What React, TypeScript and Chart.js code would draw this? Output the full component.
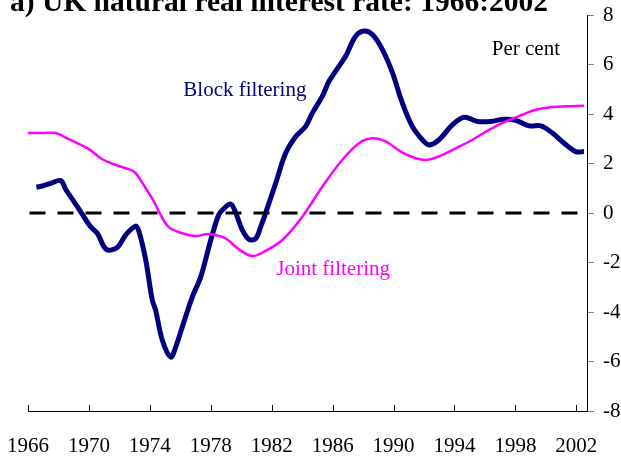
import React, { useEffect, useRef } from "react";
import { Chart, registerables } from "chart.js";

Chart.register(...registerables);

const blockYears = [
  1966.55, 1967.0, 1967.49, 1968.15, 1968.47, 1969.24, 1970.1, 1970.55, 1971.14, 1971.86,
  1972.41, 1973.07, 1973.29, 1973.73, 1974.16, 1974.38, 1974.82, 1975.37, 1975.7, 1976.13,
  1976.79, 1977.34, 1978.0, 1978.5, 1978.76, 1979.31, 1979.64, 1980.07, 1980.51, 1980.95,
  1981.28, 1981.6, 1982.26, 1982.92, 1983.58, 1984.23, 1984.67, 1985.32, 1985.76, 1986.42,
  1986.86, 1987.52, 1988.07, 1988.61, 1989.27, 1989.93, 1990.58, 1991.23, 1991.89, 1992.33,
  1992.99, 1993.86, 1994.63, 1995.5, 1996.38, 1997.25, 1998.02, 1998.9, 1999.67, 2000.43,
  2001.2, 2001.96, 2002.5,
];
const blockValues = [
  1.04, 1.1, 1.2, 1.31, 0.96, 0.26, -0.55, -0.82, -1.47, -1.39,
  -0.89, -0.53, -0.76, -1.9, -3.52, -3.93, -5.14, -5.82, -5.41, -4.6,
  -3.39, -2.58, -1.09, -0.1, 0.12, 0.36, 0.0, -0.69, -1.07, -1.03,
  -0.55, 0.0, 1.2, 2.42, 3.09, 3.5, 4.04, 4.71, 5.32, 5.93,
  6.34, 7.15, 7.35, 7.21, 6.6, 5.66, 4.44, 3.5, 2.96, 2.75,
  2.96, 3.56, 3.87, 3.7, 3.7, 3.79, 3.74, 3.52, 3.52, 3.23,
  2.82, 2.48, 2.48,
];

const jointYears = [
  1966.0, 1966.94, 1967.82, 1968.69, 1970.0, 1970.88, 1971.76, 1972.74, 1973.07, 1973.73,
  1974.27, 1974.71, 1975.26, 1976.13, 1977.01, 1977.67, 1978.1, 1978.98, 1979.85, 1980.73,
  1981.6, 1982.7, 1984.01, 1985.32, 1986.64, 1987.73, 1988.6, 1989.48, 1990.5, 1991.46,
  1992.22, 1993.21, 1994.3, 1995.18, 1996.27, 1997.37, 1998.46, 1999.34, 2000.43, 2001.31,
  2002.5,
];
const jointValues = [
  3.23, 3.23, 3.23, 2.98, 2.58, 2.17, 1.94, 1.74, 1.61, 1.0,
  0.46, -0.08, -0.58, -0.82, -0.93, -0.86, -0.86, -1.03, -1.47, -1.74,
  -1.53, -1.09, -0.15, 1.06, 2.15, 2.82, 3.02, 2.89, 2.47, 2.21,
  2.15, 2.35, 2.68, 2.96, 3.36, 3.7, 3.97, 4.17, 4.28, 4.31,
  4.33,
];

const zeroYears = [1966.1, 2002.45];
const zeroValues = [0, 0];

const xTickYears = [1966, 1970, 1974, 1978, 1982, 1986, 1990, 1994, 1998, 2002];
const yTickValues = [-8, -6, -4, -2, 0, 2, 4, 6, 8];

const titleText = "a) UK natural real interest rate: 1966:2002";
const annotations = [
  { text: "Per cent", x: 1996.45, y: 6.4, color: "#000000" },
  { text: "Block filtering", x: 1976.2, y: 4.74, color: "#000080" },
  { text: "Joint filtering", x: 1982.3, y: -2.5, color: "#FF00FF" },
];

const FONT = "'Liberation Serif', 'Times New Roman', serif";

const pts = (xs: number[], ys: number[]) => xs.map((x, i) => ({ x, y: ys[i] }));

const textPlugin = {
  id: "textPlugin",
  afterDraw(chart: any) {
    const ctx = chart.ctx;
    const xs = chart.scales.x;
    const ys = chart.scales.y;
    ctx.save();
    // inward x-axis ticks
    ctx.strokeStyle = "#000000";
    ctx.lineWidth = 1;
    const yb = chart.chartArea.bottom;
    xTickYears.forEach((v) => {
      const px = Math.round(xs.getPixelForValue(v)) + 0.5;
      ctx.beginPath();
      ctx.moveTo(px, yb);
      ctx.lineTo(px, yb - 6);
      ctx.stroke();
    });
    // title
    ctx.fillStyle = "#000000";
    ctx.font = `bold 29.5px ${FONT}`;
    ctx.textAlign = "left";
    ctx.textBaseline = "alphabetic";
    ctx.fillText(titleText, 10, 11);
    // annotations
    ctx.font = `21px ${FONT}`;
    annotations.forEach((a) => {
      ctx.fillStyle = a.color;
      ctx.fillText(a.text, xs.getPixelForValue(a.x), ys.getPixelForValue(a.y));
    });
    ctx.restore();
  },
};

export default function App() {
  const ref = useRef<HTMLCanvasElement>(null);
  useEffect(() => {
    if (!ref.current) return;
    const chart = new Chart(ref.current, {
      type: "line",
      data: {
        datasets: [
          {
            label: "Zero",
            data: pts(zeroYears, zeroValues),
            borderColor: "#000000",
            borderWidth: 3,
            borderDash: [16, 12],
            pointRadius: 0,
            tension: 0,
          },
          {
            label: "Joint filtering",
            data: pts(jointYears, jointValues),
            borderColor: "#FF00FF",
            borderWidth: 2.5,
            pointRadius: 0,
            tension: 0.35,
          },
          {
            label: "Block filtering",
            data: pts(blockYears, blockValues),
            borderColor: "#000080",
            borderWidth: 5,
            pointRadius: 0,
            tension: 0.35,
          },
        ],
      },
      options: {
        animation: false,
        responsive: false,
        maintainAspectRatio: false,
        layout: { padding: { left: 28, top: 15, right: 0, bottom: 0 } },
        plugins: { legend: { display: false }, tooltip: { enabled: false }, title: { display: false } },
        scales: {
          x: {
            type: "linear",
            position: "bottom",
            min: 1966,
            max: 2002.7,
            afterBuildTicks: (s: any) => {
              s.ticks = xTickYears.map((v) => ({ value: v }));
            },
            afterFit: (s: any) => {
              s.height = 46;
              s.paddingLeft = 0;
              s.paddingRight = 0;
            },
            ticks: {
              autoSkip: false,
              maxRotation: 0,
              padding: 23,
              color: "#000000",
              font: { family: FONT, size: 21 },
              callback: (v: any) => String(v),
            },
            grid: { display: true, drawOnChartArea: false, drawTicks: false },
            border: { display: true, color: "#000000", width: 1 },
          },
          y: {
            type: "linear",
            position: "right",
            min: -8,
            max: 8,
            afterBuildTicks: (s: any) => {
              s.ticks = yTickValues.map((v) => ({ value: v }));
            },
            afterFit: (s: any) => {
              s.width = 34;
              s.paddingTop = 0;
              s.paddingBottom = 0;
            },
            ticks: {
              padding: 9,
              color: "#000000",
              font: { family: FONT, size: 21 },
              callback: (v: any) => String(v),
            },
            grid: { display: true, drawOnChartArea: false, drawTicks: true, tickLength: 7, color: "#808080" },
            border: { display: true, color: "#000000", width: 1 },
          },
        },
      },
      plugins: [textPlugin],
    });
    return () => chart.destroy();
  }, []);
  return (
    <div style={{ position: "fixed", left: 0, top: 0, width: 621, height: 457, background: "#ffffff" }}>
      <canvas ref={ref} width={621} height={457} />
    </div>
  );
}
